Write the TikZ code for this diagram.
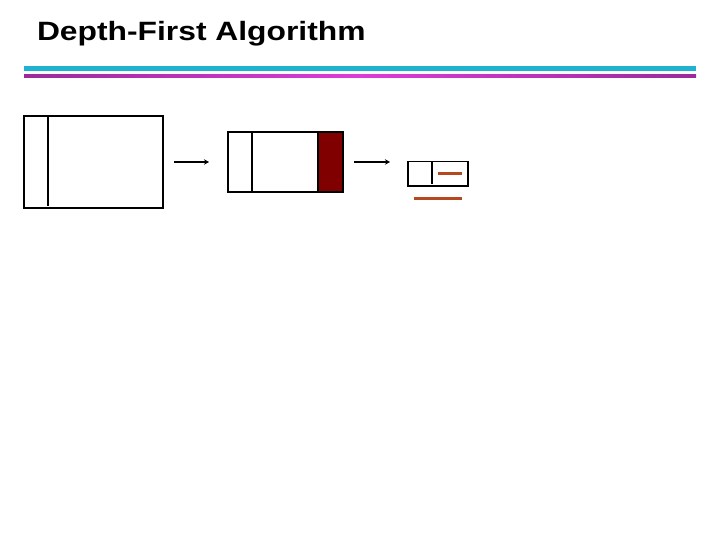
\documentclass[tikz,border=0pt]{standalone}
\usepackage{fontspec}
\setmainfont{Liberation Sans}
\usetikzlibrary{arrows.meta}
\definecolor{tealbar}{HTML}{1DB3CE}
\definecolor{plumbar}{HTML}{9A2A9C}
\definecolor{pinkbar}{HTML}{DC3CD8}
\definecolor{stackred}{HTML}{800000}
\definecolor{rust}{HTML}{B5481F}

\begin{document}
\begin{tikzpicture}[x=1bp,y=-1bp]
    \tikzstyle{every node}=[inner sep=0pt, outer sep=0pt]
    \tikzstyle{frame}=[draw, line width=1.1bp]
    \tikzstyle{arr}=[line width=1.6bp, -{Stealth[length=5bp,width=5.5bp]}]
    \tikzstyle{mark line}=[rust, line width=3bp]
    \useasboundingbox (0,0) rectangle (720,540);

    \node[anchor=base west, xscale=1.2,
    font=\bfseries\fontsize{26.5bp}{30bp}\selectfont] (title) at (37,41)
    {Depth-First Algorithm};

    \fill[tealbar] (24,66) rectangle (696,71.5);
    \shade[left color=plumbar, right color=plumbar, middle color=pinkbar]
    (24,75) rectangle (696,78);

    \node[frame, anchor=north west, minimum width=139bp, minimum height=92bp]
    (big) at (24,116) {};
    \draw[line width=1.1bp] ([xshift=24bp]big.north west) -- ++(0,90);

    \node[frame, anchor=north west, minimum width=115bp, minimum height=60bp]
    (mid) at (228,132) {};
    \draw[line width=1.1bp] ([xshift=24bp]mid.north west) -- ([xshift=24bp]mid.south west);
    \node[frame, fill=stackred, anchor=north east, minimum width=25bp,
    minimum height=60bp] (top) at (mid.north east) {};

    \node[frame, anchor=north west, minimum width=60bp, minimum height=24.5bp]
    (small) at (408,161.5) {};
    \draw[line width=1.1bp] ([xshift=24bp]small.north west) -- ++(0,22.5);

    \draw[mark line] (438,174) -- (462,174);
    \draw[mark line] (414,198.5) -- (462,198.5);

    \coordinate (a1) at (174,162);
    \coordinate (b1) at (209,162);
    \coordinate (a2) at (354,162);
    \coordinate (b2) at (390,162);
    \draw[arr] (a1) -- (b1);
    \draw[arr] (a2) -- (b2);

\end{tikzpicture}
\end{document}
